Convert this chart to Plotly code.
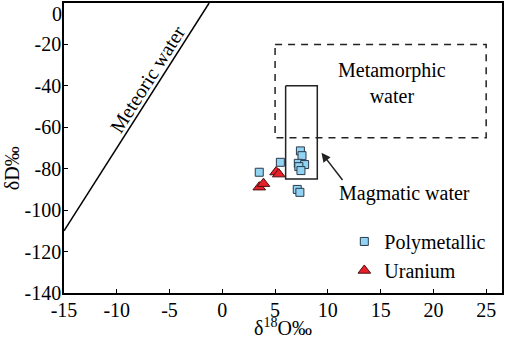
import plotly.graph_objects as go

# Data
poly_x = [3.5, 5.5, 7.4, 7.55, 7.2, 7.8, 7.25, 7.45, 7.1, 7.35]
poly_y = [-81.7, -76.9, -71.4, -73.7, -77.4, -78.0, -79.0, -80.9, -90.0, -91.4]
ura_x = [3.5, 3.9, 5.1, 5.35]
ura_y = [-88.9, -87.2, -81.6, -82.6]

x_ticks = [-15, -10, -5, 0, 5, 10, 15, 20, 25]
y_ticks = [0, -20, -40, -60, -80, -100, -120, -140]

# Meteoric water line: dD = 8*d18O + 10
mwl_x = [-15, -1.25]
mwl_y = [8 * v + 10 for v in mwl_x]

# Metamorphic water field (dashed) and magmatic water field (solid)
meta_x = [5, 25, 25, 5, 5]
meta_y = [-20, -20, -65, -65, -20]
mag_x = [6, 9, 9, 6, 6]
mag_y = [-40, -40, -85, -85, -40]

FONT = "Liberation Serif"

fig = go.Figure()
fig.add_trace(go.Scatter(x=mwl_x, y=mwl_y, mode="lines", line=dict(color="black", width=1.5),
                         showlegend=False, hoverinfo="skip"))
fig.add_trace(go.Scatter(x=meta_x, y=meta_y, mode="lines",
                         line=dict(color="#222", width=1.5, dash="7px,6px"),
                         showlegend=False, hoverinfo="skip"))
fig.add_trace(go.Scatter(x=mag_x, y=mag_y, mode="lines", line=dict(color="#222", width=1.5),
                         showlegend=False, hoverinfo="skip"))
fig.add_trace(go.Scatter(x=poly_x, y=poly_y, mode="markers", name="Polymetallic",
                         marker=dict(symbol="square", size=8, color="#92d2f2",
                                     line=dict(color="#2a3a4a", width=1))))
fig.add_trace(go.Scatter(x=ura_x, y=ura_y, mode="markers", name="Uranium",
                         marker=dict(symbol="triangle-up", size=11, color="#e8202a",
                                     line=dict(color="#4a1010", width=1))))

fig.add_annotation(x=-7.1, y=-36.5, text="Meteoric water", showarrow=False, textangle=-57.6,
                   font=dict(family=FONT, size=20, color="black"))
fig.add_annotation(x=16.1, y=-38.4, text="Metamorphic<br>water", showarrow=False,
                   font=dict(family=FONT, size=20, color="black"))
fig.add_annotation(x=17.3, y=-91.8, text="Magmatic water", showarrow=False,
                   font=dict(family=FONT, size=20, color="black"))
fig.add_annotation(x=9.4, y=-72.3, ax=11.5, ay=-86.2, axref="x", ayref="y", xref="x", yref="y",
                   text="", showarrow=True, arrowhead=2, arrowsize=1.2, arrowwidth=1.5,
                   arrowcolor="#222")

# Top y tick label, nudged down so it stays inside the page (as in the reference)
fig.add_annotation(xref="paper", yref="y", x=0, y=y_ticks[0], xanchor="right", yanchor="top",
                   xshift=0, yshift=2, text=str(y_ticks[0]), showarrow=False,
                   font=dict(family=FONT, size=20, color="black"))

# Axis titles
fig.add_annotation(xref="paper", yref="paper", x=0.5, y=-0.118, yanchor="middle",
                   text="δ<sup>18</sup>O‰", showarrow=False,
                   font=dict(family=FONT, size=20, color="black"))
fig.add_annotation(xref="paper", yref="paper", x=-0.119, y=0.43, xanchor="center", yanchor="middle",
                   text="δD‰", showarrow=False, textangle=-90,
                   font=dict(family=FONT, size=20, color="black"))

axis_common = dict(showgrid=False, zeroline=False, showline=True, linecolor="black", linewidth=1.5,
                   mirror=True, ticks="inside", ticklen=4, tickwidth=1, tickcolor="black",
                   automargin=False,
                   tickfont=dict(family=FONT, size=20, color="black"))
fig.update_xaxes(range=[-15, 26.5], tickvals=x_ticks, ticktext=[str(v) for v in x_ticks],
                 ticklabelstandoff=-2, **axis_common)
fig.update_yaxes(range=[-140, 0], tickvals=y_ticks,
                 ticktext=[""] + [str(v) for v in y_ticks[1:]],
                 ticklabelstandoff=-3, **axis_common)

fig.update_layout(
    width=505, height=338,
    margin=dict(l=64, r=3, t=3, b=45, autoexpand=False),
    paper_bgcolor="white", plot_bgcolor="white",
    showlegend=True,
    legend=dict(x=0.64, y=0.245, xanchor="left", yanchor="top", bgcolor="rgba(0,0,0,0)",
                font=dict(family=FONT, size=20, color="black"), itemwidth=30),
)

fig.write_html("out.html", config={"displayModeBar": False},
               post_script="document.body.style.margin='0px';")
